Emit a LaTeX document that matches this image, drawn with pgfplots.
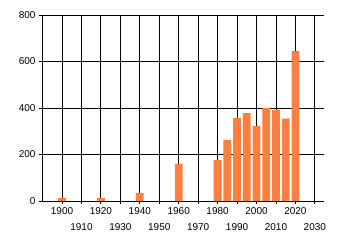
\documentclass[border=0pt]{standalone}
\usepackage{pgfplots}
\pgfplotsset{compat=1.18}
\usepackage{fontspec}
\setmainfont{Liberation Sans}
\definecolor{barorange}{RGB}{255,127,64}
\begin{document}
\begin{tikzpicture}
\useasboundingbox (-42bp,-44bp) rectangle (298bp,201bp);
\begin{axis}[
  at={(0,0)}, anchor=south west,
  scale only axis, width=282bp, height=186bp,
  xmin=1889.7, xmax=2034.7, ymin=0, ymax=800,
  axis lines*=left, axis line style={line width=0.9bp,-},
  xtick={1900,1920,...,2020},
  extra x ticks={1910,1930,...,2030},
  extra x tick style={grid=major, tick label style={yshift=-16bp}},
  ytick={0,200,...,800},
  grid=major, major grid style={black,line width=0.9bp},
  tick align=outside, major tick length=3bp, tick style={black, line width=0.9bp},
  /pgf/number format/1000 sep={},
  /pgf/number format/assume math mode=true,
  tick label style={font=\fontsize{10bp}{12bp}\selectfont},
  ybar, bar width=4,
]
\addplot[fill=barorange, draw=none] coordinates {
  (1900,12) (1920,12) (1940,35) (1960,160) (1980,176) (1985,262)
  (1990,357) (1995,378) (2000,322) (2005,400) (2010,391) (2015,354) (2020,645)
};
\end{axis}
\end{tikzpicture}
\end{document}
